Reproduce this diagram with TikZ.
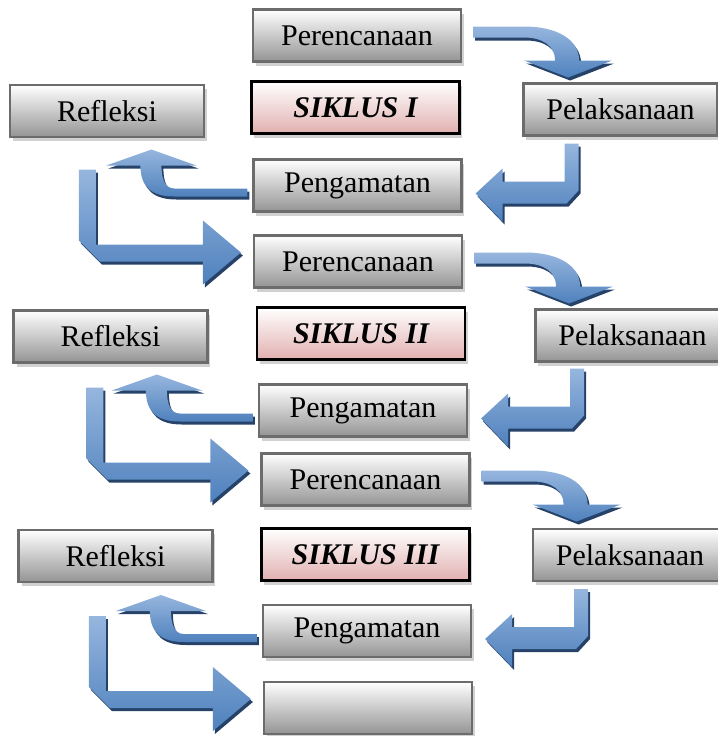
\documentclass[tikz,border=0pt]{standalone}
\usepackage{fontspec}
\setmainfont{Liberation Serif}
\usetikzlibrary{calc,shadows}

\definecolor{panahbiru}{RGB}{79,129,189}
\definecolor{panahmuda}{RGB}{150,182,222}
\definecolor{panahgelap}{RGB}{38,66,104}
\definecolor{abubawah}{RGB}{148,148,148}
\definecolor{merahbawah}{RGB}{226,176,176}

\tikzset{
  kotak/.style={draw=gray!85!black, line width=1.1pt, top color=white, bottom color=abubawah,
    minimum width=104pt, minimum height=26pt, inner sep=0pt,
    drop shadow={shadow xshift=1.5pt, shadow yshift=-2pt, fill=gray!60, opacity=0.6},
    font=\fontsize{15}{18}\selectfont},
  sisi/.style={minimum width=97pt},
  siklus/.style={kotak, draw=black, line width=1.3pt, bottom color=merahbawah,
    font=\fontsize{15}{18}\selectfont\bfseries\itshape},
  panah/.style={top color=panahmuda, bottom color=panahbiru,
    preaction={fill=panahgelap, transform canvas={xshift=1pt, yshift=-1.5pt}}},
  % lengkung ke bawah: Perencanaan -> Pelaksanaan
  panahA/.pic={\path[panah] (11,-9) -- (62,-9) .. controls (95,-9) and (117,4) .. (117,25)
      -- (150,25) -- (106,42) -- (62,25) -- (93,25) .. controls (93,10) and (80,2) .. (62,2)
      -- (11,2) -- cycle;},
  % siku ke kiri: Pelaksanaan -> Pengamatan
  panahB/.pic={\path[panah] (0,0) -- (27,-25) -- (27,-12) -- (89,-12) -- (89,-50)
      -- (103,-50) -- (103,-3) -- (91,10) -- (27,10) -- (27,28) -- cycle;},
  % lengkung ke atas: Pengamatan -> Refleksi
  panahC/.pic={\path[panah] (-5,3) -- (-78,3) .. controls (-88,3) and (-91,-8) .. (-91,-20)
      -- (-56,-20) -- (-101,-36) -- (-146,-20) -- (-112,-20) .. controls (-112,2) and (-100,11) .. (-78,11)
      -- (-5,11) -- cycle;},
  % siku ke kanan: Refleksi -> Perencanaan
  panahD/.pic={\path[panah] (0,0) -- (-38,-32) -- (-38,-8) -- (-145,-8) -- (-145,-83)
      -- (-162,-83) -- (-162,-12) -- (-141,9) -- (-38,9) -- (-38,32) -- cycle;}
}

\begin{document}
\begin{tikzpicture}[x=0.5pt, y=-0.5pt]
\useasboundingbox (0,0) rectangle (718,736);

% siklus I
\node[kotak] (per1) at (357,35.5) {Perencanaan};
\node[siklus] (sik1) at (355.5,107.5) {SIKLUS I};
\node[kotak,sisi] (ref1) at (107,111) {Refleksi};
\node[kotak,sisi] (pel1) at (620.5,109.5) {Pelaksanaan};
\node[kotak] (pen1) at (357.5,185.5) {Pengamatan};

% siklus II
\node[kotak] (per2) at (358,261.5) {Perencanaan};
\node[siklus] (sik2) at (361,333.5) {SIKLUS II};
\node[kotak,sisi] (ref2) at (110.5,336.5) {Refleksi};
\node[kotak,sisi] (pel2) at (632.5,335.5) {Pelaksanaan};
\node[kotak] (pen2) at (363,410.5) {Pengamatan};

% siklus III
\node[kotak] (per3) at (365.5,479.5) {Perencanaan};
\node[siklus] (sik3) at (365.5,554.5) {SIKLUS III};
\node[kotak,sisi] (ref3) at (115.5,556) {Refleksi};
\node[kotak,sisi] (pel3) at (630,555) {Pelaksanaan};
\node[kotak] (pen3) at (367,631) {Pengamatan};
\node[kotak] (akhir) at (368,708) {};

% panah
\pic at (per1.east) {panahA};
\pic at ($(pen1.east)+(13,8)$) {panahB};
\pic at (pen1.west) {panahC};
\pic at ($(per2.west)+(-12,-9)$) {panahD};

\pic at (per2.east) {panahA};
\pic at ($(pen2.east)+(13,8)$) {panahB};
\pic at (pen2.west) {panahC};
\pic at ($(per3.west)+(-12,-9)$) {panahD};

\pic at (per3.east) {panahA};
\pic at ($(pen3.east)+(13,8)$) {panahB};
\pic at (pen3.west) {panahC};
\pic at ($(akhir.west)+(-12,-9)$) {panahD};

\end{tikzpicture}
\end{document}
